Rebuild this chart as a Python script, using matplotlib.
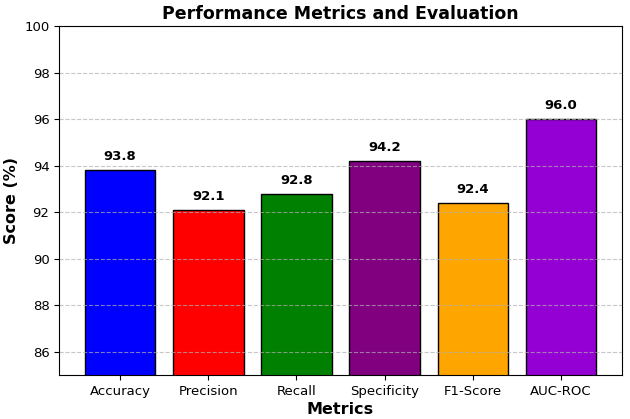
import matplotlib
matplotlib.use("Agg")
import matplotlib.pyplot as plt

metrics = ["Accuracy", "Precision", "Recall", "Specificity", "F1-Score", "AUC-ROC"]
scores = [93.8, 92.1, 92.8, 94.2, 92.4, 96.0]
colors = ["blue", "red", "green", "purple", "orange", "darkviolet"]
yticks = [86, 88, 90, 92, 94, 96, 98, 100]

fig, ax = plt.subplots(figsize=(6.3, 4.19), dpi=100)
bars = ax.bar(metrics, scores, color=colors, edgecolor="black", width=0.8)
for b, v in zip(bars, scores):
    ax.text(b.get_x() + b.get_width() / 2, v + 0.3, f"{v:.1f}",
            ha="center", va="bottom", fontsize=9.5, fontweight="bold")
ax.set_ylim(85, 100)
ax.set_yticks(yticks)
ax.tick_params(labelsize=9.5)
ax.set_title("Performance Metrics and Evaluation", fontsize=12.5, fontweight="bold", pad=5)
ax.set_xlabel("Metrics", fontsize=11.5, fontweight="bold", labelpad=3)
ax.set_ylabel("Score (%)", fontsize=11.5, fontweight="bold")
ax.grid(axis="y", linestyle="--", alpha=0.7)
fig.subplots_adjust(left=0.094, right=0.987, top=0.938, bottom=0.105)
fig.savefig("out.png", dpi=100)
